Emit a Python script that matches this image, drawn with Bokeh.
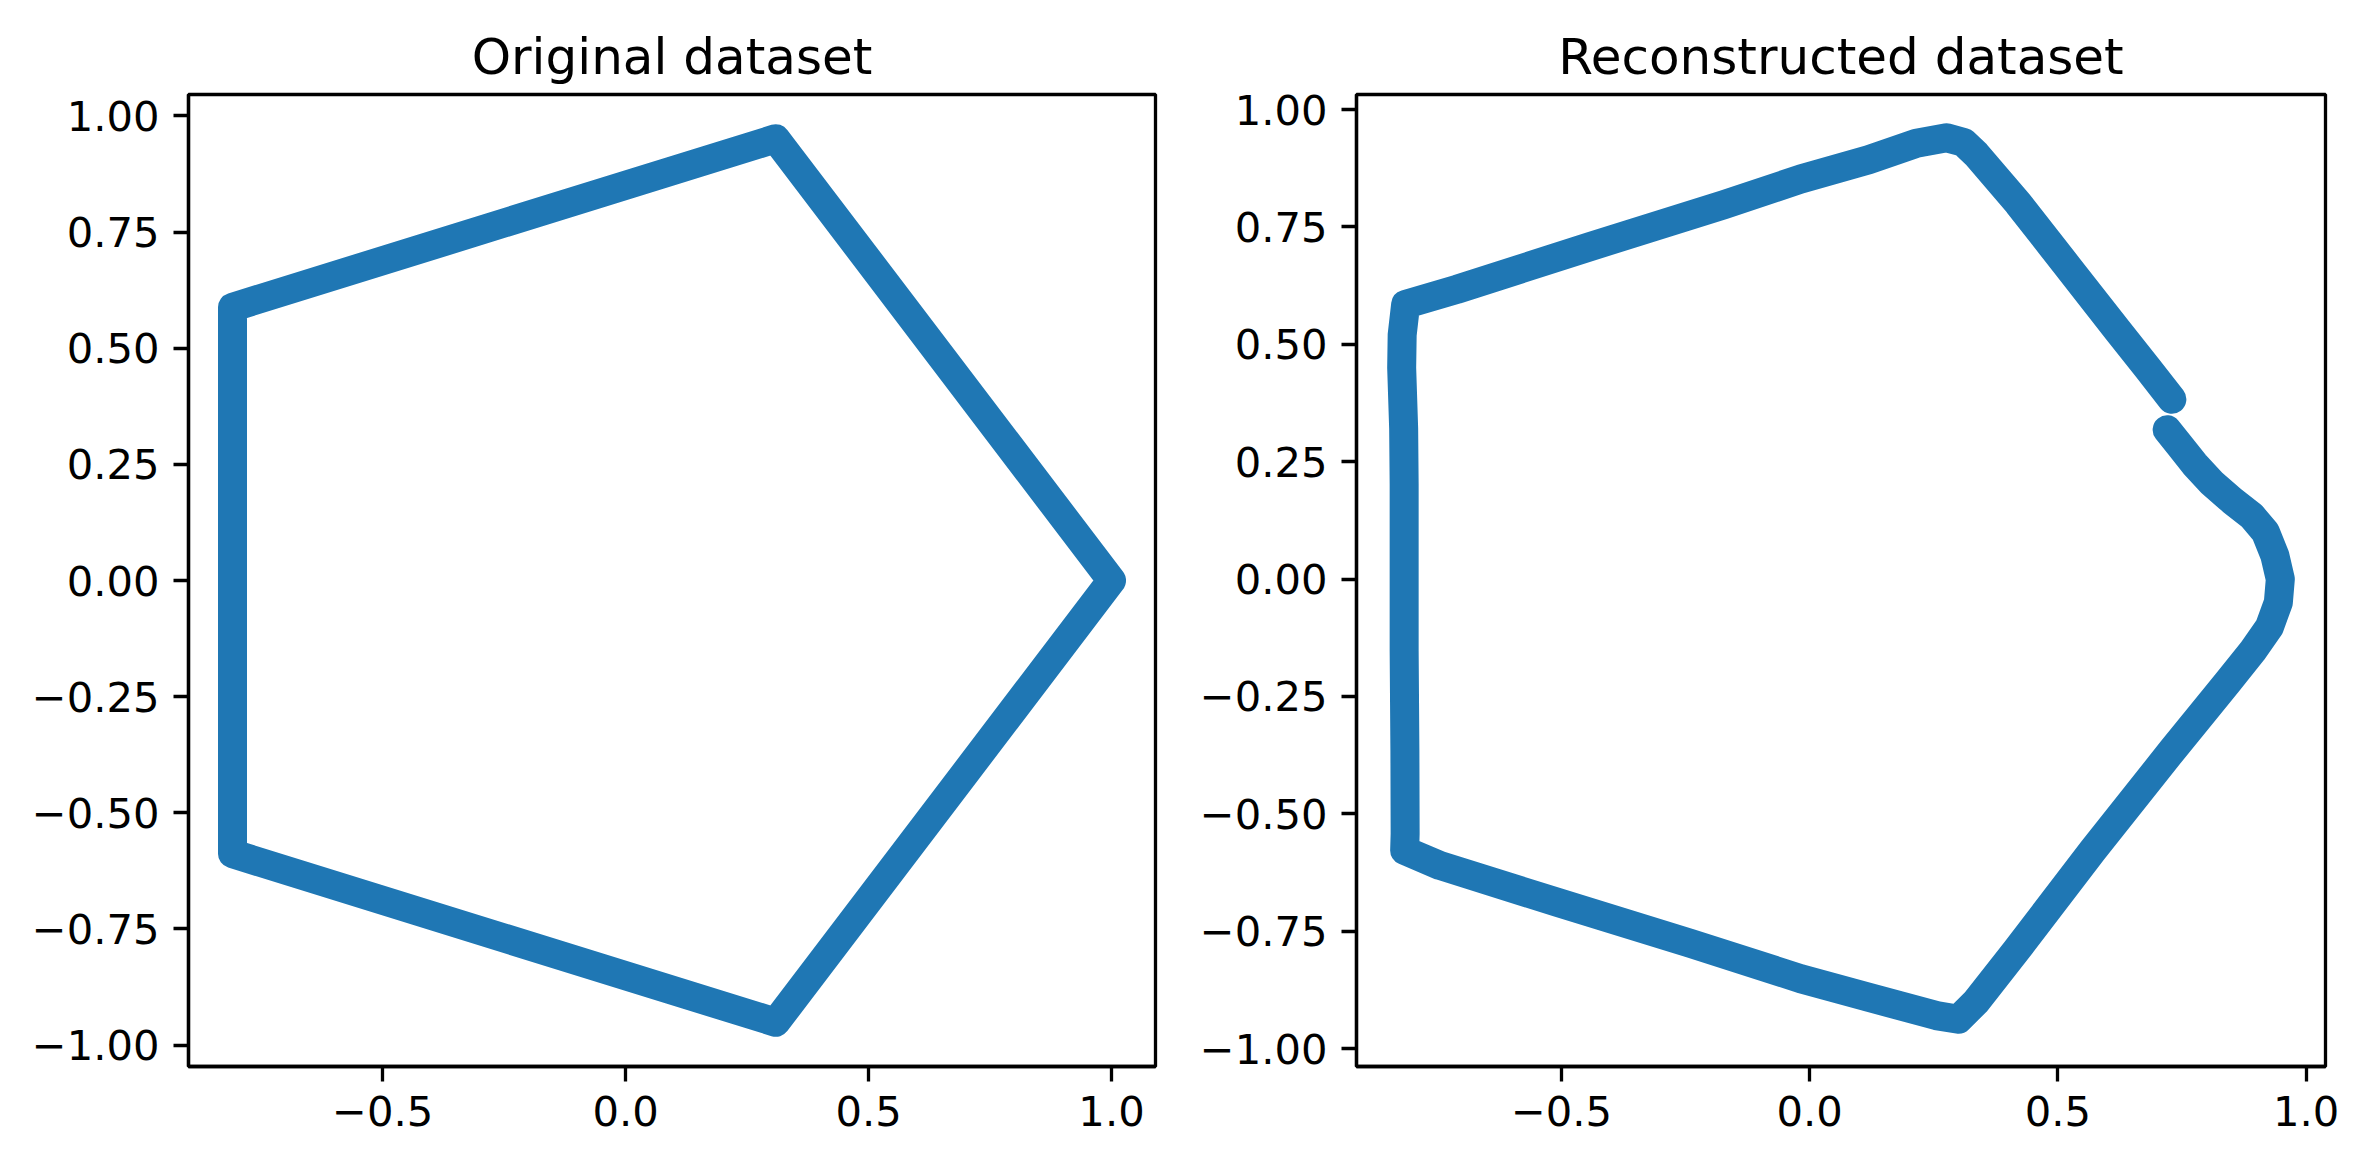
from bokeh.plotting import figure
from bokeh.layouts import row
from bokeh.models import Range1d, FixedTicker
from bokeh.embed import file_html
from bokeh.resources import INLINE

# ---- data ----
orig_x = [1.0, 0.309, -0.809, -0.809, 0.309, 1.0]
orig_y = [0.0, 0.951, 0.588, -0.588, -0.951, 0.0]

recon_x = [0.720, 0.745, 0.775, 0.810, 0.850, 0.890, 0.918, 0.937, 0.948, 0.944,
           0.926, 0.893, 0.840, 0.730, 0.570, 0.416, 0.335, 0.2996, 0.255, 0.1186,
           -0.018, -0.241, -0.5095, -0.7445, -0.816, -0.815, -0.8155, -0.817, -0.817,
           -0.818, -0.822, -0.821, -0.814, -0.711, -0.4424, -0.174, -0.018, 0.1186,
           0.215, 0.2757, 0.310, 0.335, 0.420, 0.520, 0.620, 0.680, 0.7295]
recon_y = [0.318, 0.285, 0.245, 0.205, 0.168, 0.135, 0.100, 0.050, 0.000, -0.050,
           -0.102, -0.152, -0.222, -0.365, -0.578, -0.791, -0.900, -0.9375, -0.9296, -0.8906,
           -0.851, -0.7755, -0.688, -0.610, -0.578, -0.542, -0.365, -0.152, 0.203,
           0.320, 0.450, 0.520, 0.585, 0.617, 0.708, 0.797, 0.852, 0.893,
           0.928, 0.940, 0.930, 0.905, 0.800, 0.665, 0.530, 0.450, 0.383]

x_ticks = [-0.5, 0.0, 0.5, 1.0]
x_labels = ["\u22120.5", "0.0", "0.5", "1.0"]
y_ticks = [-1.0, -0.75, -0.5, -0.25, 0.0, 0.25, 0.5, 0.75, 1.0]
y_labels = ["\u22121.00", "\u22120.75", "\u22120.50", "\u22120.25", "0.00",
            "0.25", "0.50", "0.75", "1.00"]

titles = ["Original dataset", "Reconstructed dataset"]

COLOR = "#1f77b4"
FONT = "DejaVu Sans"


def make_fig(title, width, border_left, xr, yr):
    p = figure(width=width, height=1158, output_backend="svg", toolbar_location=None,
               x_range=Range1d(*xr), y_range=Range1d(*yr),
               min_border_left=border_left, min_border_right=35,
               min_border_top=94, min_border_bottom=92,
               background_fill_color="white", border_fill_color="white")
    p.title.text = title
    p.title.text_font = FONT
    p.title.text_font_size = "50px"
    p.title.text_font_style = "normal"
    p.title.text_color = "black"
    p.title.align = "center"
    p.title.standoff = 18
    p.xgrid.visible = False
    p.ygrid.visible = False
    p.outline_line_color = "black"
    p.outline_line_width = 3.3
    p.outline_line_alpha = 1.0
    for ax, ticks, labels in ((p.xaxis[0], x_ticks, x_labels), (p.yaxis[0], y_ticks, y_labels)):
        ax.ticker = FixedTicker(ticks=ticks)
        ax.major_label_overrides = dict(zip(ticks, labels))
        ax.major_label_text_font = FONT
        ax.major_label_text_font_size = "41.7px"
        ax.major_label_text_color = "black"
        ax.axis_line_color = "black"
        ax.axis_line_width = 3.3
        ax.major_tick_line_color = "black"
        ax.major_tick_line_width = 3.3
        ax.major_tick_out = 15
        ax.major_tick_in = 0
        ax.minor_tick_line_color = None
        ax.major_label_standoff = 14
    return p


p1 = make_fig(titles[0], 1190, 188, (-0.8995, 1.0905), (-1.0461, 1.0461))
p1.line(orig_x, orig_y, line_width=29, line_color=COLOR, line_join="round", line_cap="round")

p2 = make_fig(titles[1], 1170, 166, (-0.913, 1.039), (-1.038, 1.032))
p2.line(recon_x, recon_y, line_width=29, line_color=COLOR, line_join="round", line_cap="round")

layout = row(p1, p2)
open("out.html", "w").write(file_html(layout, INLINE))
